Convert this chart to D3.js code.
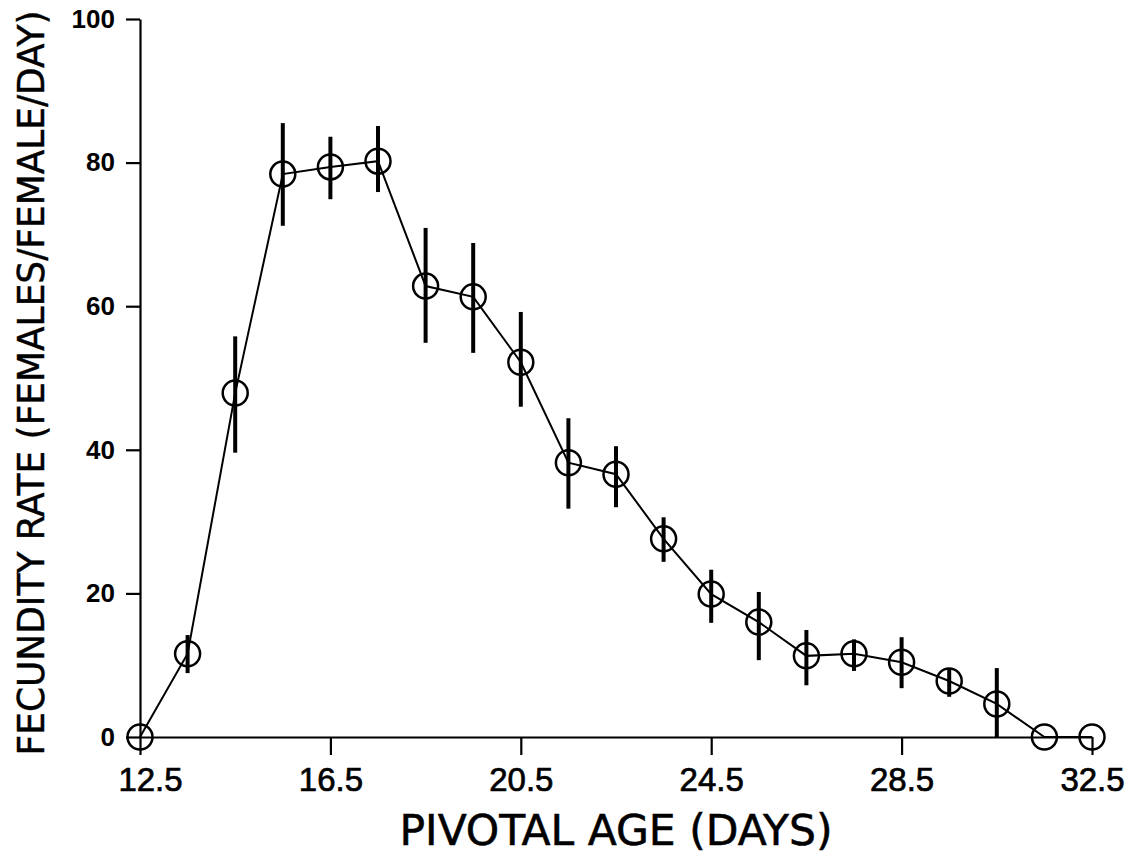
<!DOCTYPE html>
<html>
<head>
<meta charset="utf-8">
<script src="https://cdn.jsdelivr.net/npm/d3@7/dist/d3.min.js"></script>
<style>
  html, body { margin: 0; padding: 0; background: #fff; }
  svg { display: block; }
</style>
</head>
<body>
<svg id="chart" width="1143" height="862"></svg>
<script>
// ---- data ----
const ages = [12.5, 13.5, 14.5, 15.5, 16.5, 17.5, 18.5, 19.5, 20.5, 21.5, 22.5,
              23.5, 24.5, 25.5, 26.5, 27.5, 28.5, 29.5, 30.5, 31.5, 32.5];
const fecundity = [0, 11.6, 47.9, 78.4, 79.4, 80.2, 62.8, 61.3, 52.2, 38.2, 36.6,
                   27.6, 19.9, 16.0, 11.3, 11.6, 10.4, 7.8, 4.6, 0, 0];
const errLow  = [null, 8.9, 39.6, 71.2, 74.9, 75.9, 54.9, 53.5, 46.0, 31.8, 32.0,
                 24.4, 15.9, 10.7, 7.2, 9.2, 6.8, 5.6, 0, null, null];
const errHigh = [null, 14.2, 55.8, 85.5, 83.6, 85.1, 70.9, 68.8, 59.2, 44.4, 40.5,
                 30.6, 23.3, 20.2, 14.9, 13.6, 13.9, 9.6, 9.6, null, null];
const xTicks = [12.5, 16.5, 20.5, 24.5, 28.5, 32.5];
const yTicks = [0, 20, 40, 60, 80, 100];
const xTitle = "PIVOTAL AGE (DAYS)";
const yTitle = "FECUNDITY RATE (FEMALES/FEMALE/DAY)";

const points = ages.map((a, i) => ({ x: a, y: fecundity[i], lo: errLow[i], hi: errHigh[i] }));

const svg = d3.select("#chart");
const x = d3.scaleLinear().domain([12.5, 32.5]).range([140, 1092]);
const y = d3.scaleLinear().domain([0, 100]).range([737, 19]);

// axes
const gx = svg.append("g").attr("transform", `translate(0,${y(0)})`)
  .call(d3.axisBottom(x).tickValues(xTicks).tickFormat(d3.format(".1f"))
        .tickSize(18).tickSizeOuter(0).tickPadding(13));
gx.selectAll("text").attr("font-family", "Liberation Sans, Arial, sans-serif")
  .attr("font-size", 33).attr("fill", "#000")
  .attr("stroke", "#000").attr("stroke-width", 0.7)
  .attr("dx", (d, i) => i === 0 ? 10 : 0);

const gy = svg.append("g").attr("transform", `translate(${x(12.5)},0)`)
  .call(d3.axisLeft(y).tickValues(yTicks).tickFormat(d3.format("d"))
        .tickSize(14).tickSizeOuter(0).tickPadding(11));
gy.selectAll("text").attr("font-family", "Liberation Sans, Arial, sans-serif")
  .attr("font-size", 26).attr("font-weight", "bold").attr("fill", "#000");

[gx, gy].forEach(g => {
  g.select(".domain").attr("stroke", "#000").attr("stroke-width", 2.2);
  g.selectAll(".tick line").attr("stroke", "#000").attr("stroke-width", 2.2);
});

// connecting line
svg.append("path").datum(points)
  .attr("fill", "none").attr("stroke", "#000").attr("stroke-width", 2)
  .attr("d", d3.line().x(d => x(d.x)).y(d => y(d.y)));

// error bars
svg.append("g").selectAll("line")
  .data(points.filter(d => d.lo !== null))
  .join("line")
  .attr("x1", d => x(d.x)).attr("x2", d => x(d.x))
  .attr("y1", d => y(d.lo)).attr("y2", d => y(d.hi))
  .attr("stroke", "#000").attr("stroke-width", 4);

// markers
svg.append("g").selectAll("circle")
  .data(points)
  .join("circle")
  .attr("cx", d => x(d.x)).attr("cy", d => y(d.y)).attr("r", 12.5)
  .attr("fill", "none").attr("stroke", "#000").attr("stroke-width", 2.5);

// titles
svg.append("text")
  .attr("x", (x(12.5) + x(32.5)) / 2).attr("y", 845)
  .attr("text-anchor", "middle")
  .attr("font-family", "DejaVu Sans Condensed, DejaVu Sans, sans-serif")
  .attr("font-stretch", "condensed")
  .attr("font-size", 42)
  .attr("textLength", 433).attr("lengthAdjust", "spacingAndGlyphs")
  .attr("fill", "#000").attr("stroke", "#000").attr("stroke-width", 0.5)
  .text(xTitle);

svg.append("text")
  .attr("transform", "translate(44,383) rotate(-90)")
  .attr("text-anchor", "middle")
  .attr("font-family", "DejaVu Sans Condensed, DejaVu Sans, sans-serif")
  .attr("font-stretch", "condensed")
  .attr("font-size", 38)
  .attr("textLength", 745).attr("lengthAdjust", "spacingAndGlyphs")
  .attr("fill", "#000").attr("stroke", "#000").attr("stroke-width", 0.4)
  .text(yTitle);
</script>
</body>
</html>
